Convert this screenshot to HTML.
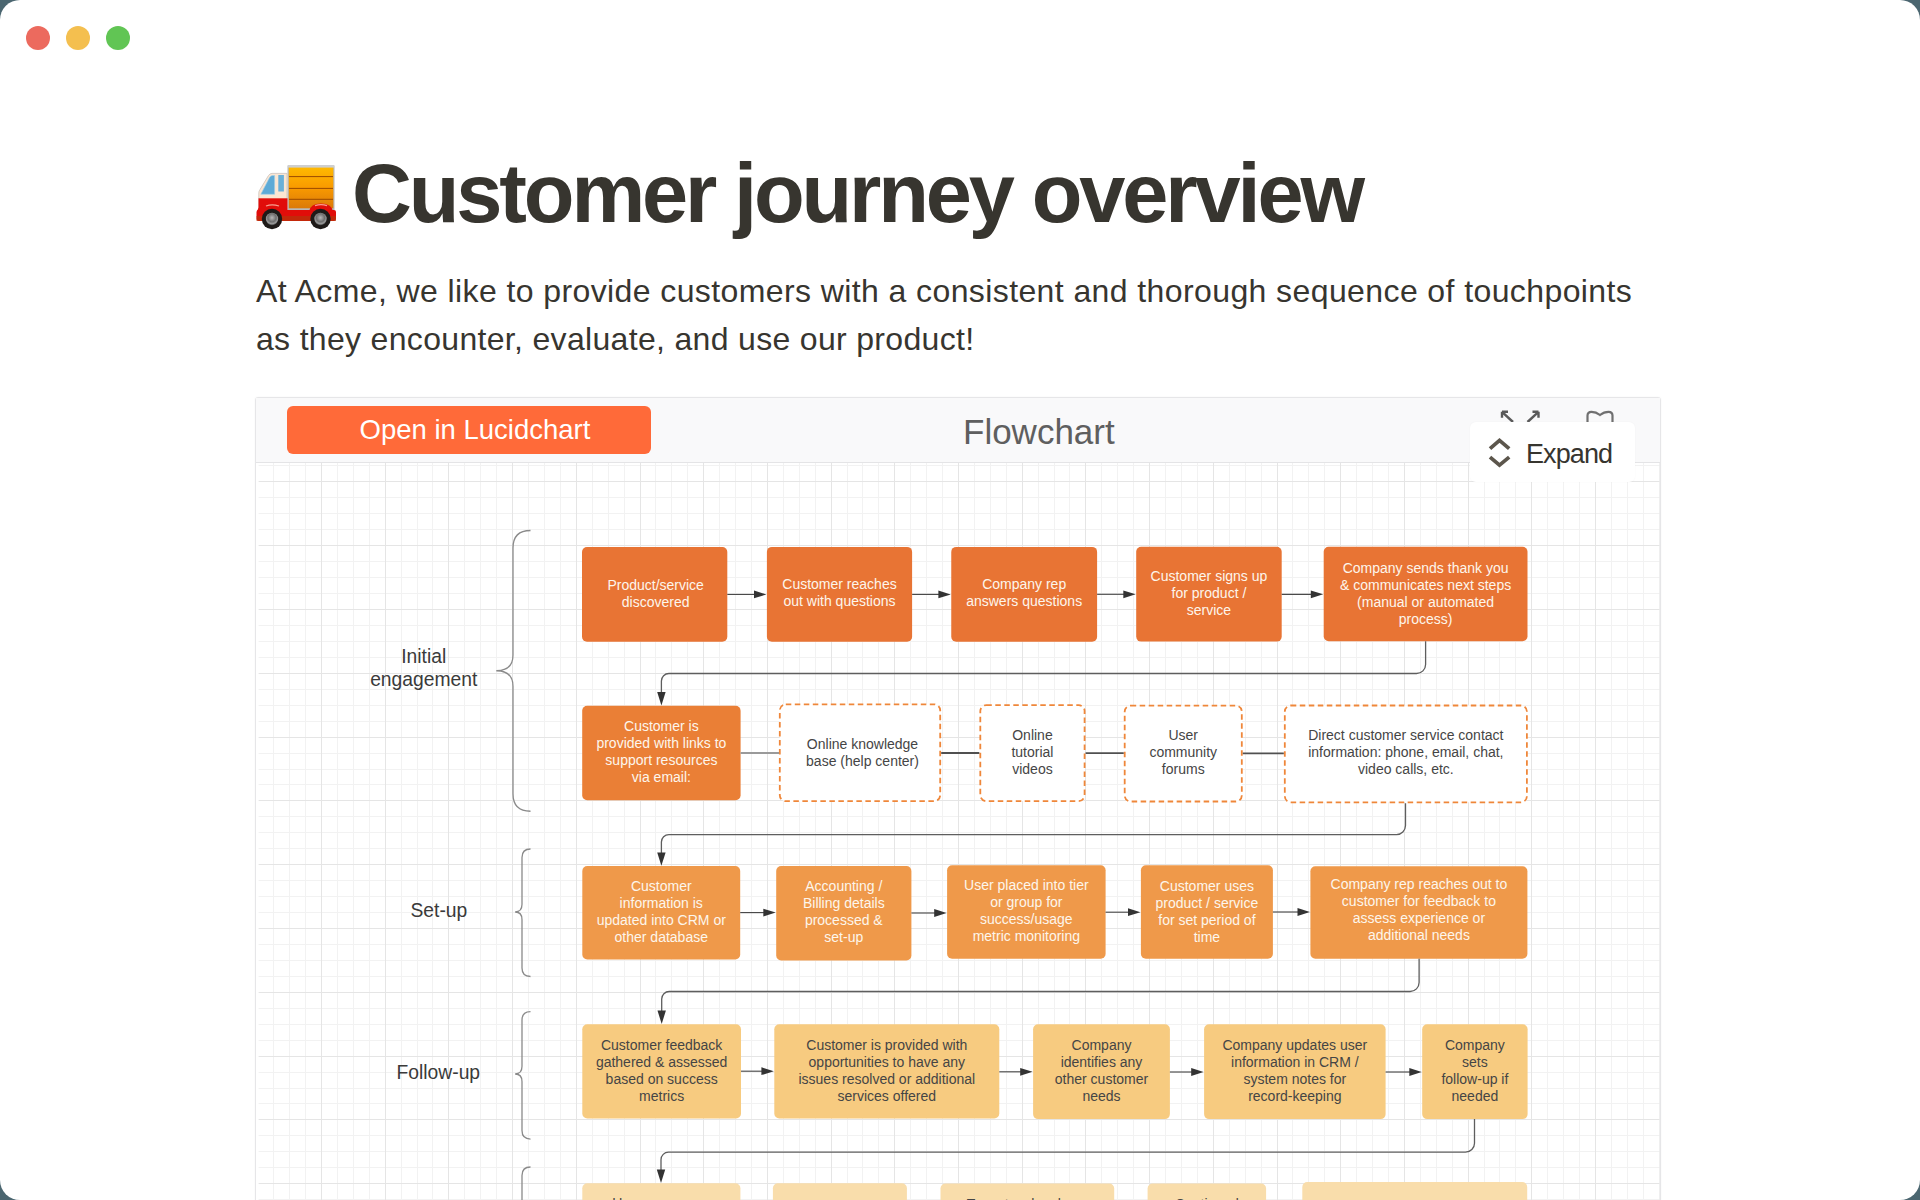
<!DOCTYPE html>
<html><head><meta charset="utf-8"><title>Customer journey overview</title>
<style>
html,body{margin:0;padding:0}
body{width:1920px;height:1200px;overflow:hidden;background:#4b6670;font-family:"Liberation Sans",sans-serif;position:relative}
.win{position:absolute;left:0;top:0;width:1920px;height:1200px;background:#fff;border-radius:20px;overflow:hidden}
.tl{position:absolute;top:26px;width:24px;height:24px;border-radius:50%}
h1{position:absolute;left:352px;top:144px;margin:0;font-size:83px;font-weight:bold;color:#37352f;letter-spacing:-3.15px;white-space:nowrap;line-height:100px}
.para{position:absolute;left:256px;top:267px;margin:0;font-size:32px;color:#37352f;line-height:48px;letter-spacing:0.40px;white-space:nowrap}
.embed{position:absolute;left:255px;top:397px;width:1406px;height:830px;border:1px solid #e6e6e8;border-radius:3px;background:#fff;box-sizing:border-box;box-shadow:0 0 2px rgba(0,0,0,0.05)}
.hdr{position:absolute;left:0;top:0;width:100%;height:64px;background:#f9f9fa;border-bottom:1px solid #e4e4e6}
.btn{position:absolute;left:31px;top:8px;width:364px;height:48px;background:#ff6a39;border-radius:6px;color:#fff;font-size:27.5px;text-align:center;line-height:48px;text-indent:12px}
.ftitle{position:absolute;left:707px;top:14px;font-size:35px;color:#5f5f5f;line-height:40px}
.expand{position:absolute;left:1470px;top:422px;width:165px;height:60px;background:#fff;border-radius:6px;box-shadow:0 0 2px rgba(0,0,0,0.04)}
.expand span{position:absolute;left:56px;top:15px;font-size:27px;letter-spacing:-0.9px;color:#37352f;line-height:34px}
</style></head><body>
<div class="win">
<div class="tl" style="left:26px;background:#ec6a5e"></div>
<div class="tl" style="left:66px;background:#f4bf4f"></div>
<div class="tl" style="left:106px;background:#61c554"></div>
<svg width="84" height="70" viewBox="254 162 84 70" style="position:absolute;left:254px;top:162px">
<defs>
<linearGradient id="cargo" x1="0" y1="0" x2="0" y2="1">
<stop offset="0" stop-color="#ffbb00"/><stop offset="0.5" stop-color="#f99a00"/><stop offset="1" stop-color="#d9780a"/></linearGradient>
<radialGradient id="hub" cx="0.5" cy="0.4" r="0.6"><stop offset="0" stop-color="#b8b8b8"/><stop offset="0.55" stop-color="#6e6e6e"/><stop offset="0.8" stop-color="#9a9a9a"/><stop offset="1" stop-color="#444"/></radialGradient>
</defs>
<rect x="287.5" y="165" width="47" height="46" fill="#b8b8b8" rx="1"/>
<rect x="288.8" y="166.3" width="44.5" height="43" fill="url(#cargo)"/><rect x="288" y="165" width="46" height="2.6" fill="#cfcfcf"/><rect x="288" y="208.3" width="46" height="1.8" fill="#b9b9b9"/>
<path d="M289 176.6H333M289 188.4H333M289 199.3H333" stroke="#9a4a00" stroke-width="1"/>
<path d="M258.8 210V193Q258.8 191 260 189.5L268.5 175.5Q269.8 173.4 272 173.4H287V210Z" fill="#fbe6d3" stroke="#c9c1bb" stroke-width="0.8"/>
<path d="M260.8 194.3L269.5 177.5Q270.6 175.5 272.5 175.5H274.6V194.3Z" fill="#5eaad6" stroke="#9fd0ea" stroke-width="0.6"/>
<rect x="278.3" y="175" width="5.6" height="16.5" fill="#6ab0d8"/>
<path d="M258.5 198.3H287.5V211H258.5Z" fill="#e10d0a"/>
<path d="M256.5 212Q256.5 210 258.5 210H334Q336 210 336 212V219Q336 221 334 221H258.5Q256.5 221 256.5 219Z" fill="#e10d0a"/>
<path d="M256.5 216H336V221H256.5Z" fill="#b03a0a" opacity="0.6"/>
<path d="M257 211Q259 204 272 203.5Q285 204 287.5 211Z" fill="#e10d0a"/><path d="M266 206Q272 203.6 279 206" stroke="#f7a090" stroke-width="1.3" fill="none"/><path d="M309 211.5Q310.5 203.6 321 203.6Q331.5 203.6 333 211.5Z" fill="#e10d0a"/><path d="M315 205.6Q321 203.8 327 205.6" stroke="#f7a090" stroke-width="1.3" fill="none"/>
<circle cx="272" cy="219" r="10.2" fill="#1e1a18"/>
<circle cx="272" cy="219" r="6.2" fill="url(#hub)"/>
<circle cx="320.5" cy="219" r="10.2" fill="#1e1a18"/>
<circle cx="320.5" cy="219" r="6.2" fill="url(#hub)"/>
</svg>
<h1>Customer journey overview</h1>
<p class="para">At Acme, we like to provide customers with a consistent and thorough sequence of touchpoints<br><span style="letter-spacing:0.32px">as they encounter, evaluate, and use our product!</span></p>
<div class="embed">
<div class="hdr">
<div class="btn">Open in Lucidchart</div>
<div class="ftitle">Flowchart</div>
<svg width="140" height="14" style="position:absolute;left:1240px;top:12px" viewBox="0 0 140 14">
<path d="M6 1.8L17 12M6 1.8H12M6 1.8V7.8" stroke="#5a5a5a" stroke-width="2.4" fill="none"/>
<path d="M42.5 1.8L31.5 12M42.5 1.8H36.5M42.5 1.8V7.8" stroke="#5a5a5a" stroke-width="2.4" fill="none"/>
<path d="M91.5 14V5.5Q91.5 1.8 95.5 1.8Q100 1.8 104 5Q108 1.8 112.5 1.8Q116.5 1.8 116.5 5.5V14" stroke="#707070" stroke-width="2.2" fill="none"/>
</svg>
</div>
</div>
<svg width="1920" height="1200" style="position:absolute;left:0;top:0" viewBox="0 0 1920 1200">
<defs><clipPath id="gc"><rect x="258.6" y="463" width="1401" height="737"/></clipPath></defs>
<g clip-path="url(#gc)" font-family="Liberation Sans, sans-serif">
<path d="M273.5 463V1200M289.5 463V1200M305.5 463V1200M337.5 463V1200M353.5 463V1200M369.5 463V1200M401.5 463V1200M417.5 463V1200M432.5 463V1200M464.5 463V1200M480.5 463V1200M496.5 463V1200M528.5 463V1200M544.5 463V1200M560.5 463V1200M592.5 463V1200M608.5 463V1200M624.5 463V1200M655.5 463V1200M671.5 463V1200M687.5 463V1200M719.5 463V1200M735.5 463V1200M751.5 463V1200M783.5 463V1200M799.5 463V1200M815.5 463V1200M847.5 463V1200M862.5 463V1200M878.5 463V1200M910.5 463V1200M926.5 463V1200M942.5 463V1200M974.5 463V1200M990.5 463V1200M1006.5 463V1200M1038.5 463V1200M1054.5 463V1200M1069.5 463V1200M1101.5 463V1200M1117.5 463V1200M1133.5 463V1200M1165.5 463V1200M1181.5 463V1200M1197.5 463V1200M1229.5 463V1200M1245.5 463V1200M1261.5 463V1200M1292.5 463V1200M1308.5 463V1200M1324.5 463V1200M1356.5 463V1200M1372.5 463V1200M1388.5 463V1200M1420.5 463V1200M1436.5 463V1200M1452.5 463V1200M1484.5 463V1200M1499.5 463V1200M1515.5 463V1200M1547.5 463V1200M1563.5 463V1200M1579.5 463V1200M1611.5 463V1200M1627.5 463V1200M1643.5 463V1200M257 465.5H1660M257 497.5H1660M257 513.5H1660M257 529.5H1660M257 561.5H1660M257 577.5H1660M257 593.5H1660M257 625.5H1660M257 641.5H1660M257 657.5H1660M257 689.5H1660M257 705.5H1660M257 721.5H1660M257 753.5H1660M257 769.5H1660M257 784.5H1660M257 816.5H1660M257 832.5H1660M257 848.5H1660M257 880.5H1660M257 896.5H1660M257 912.5H1660M257 944.5H1660M257 960.5H1660M257 976.5H1660M257 1008.5H1660M257 1024.5H1660M257 1040.5H1660M257 1072.5H1660M257 1088.5H1660M257 1103.5H1660M257 1135.5H1660M257 1151.5H1660M257 1167.5H1660M257 1199.5H1660" stroke="#f2f2f2" stroke-width="1" fill="none"/>
<path d="M257.5 463V1200M321.5 463V1200M385.5 463V1200M448.5 463V1200M512.5 463V1200M576.5 463V1200M640.5 463V1200M703.5 463V1200M767.5 463V1200M831.5 463V1200M894.5 463V1200M958.5 463V1200M1022.5 463V1200M1085.5 463V1200M1149.5 463V1200M1213.5 463V1200M1277.5 463V1200M1340.5 463V1200M1404.5 463V1200M1468.5 463V1200M1531.5 463V1200M1595.5 463V1200M1659.5 463V1200M257 481.5H1660M257 545.5H1660M257 609.5H1660M257 673.5H1660M257 737.5H1660M257 800.5H1660M257 864.5H1660M257 928.5H1660M257 992.5H1660M257 1056.5H1660M257 1119.5H1660M257 1183.5H1660" stroke="#e5e5e5" stroke-width="1" fill="none"/>
<path d="M530.5 530.5 Q513 530.5 513 548 V655 Q513 670.75 496.3 670.75 Q513 670.75 513 686.5 V793.75 Q513 811.25 530.5 811.25" stroke="#8a8a8a" stroke-width="1.3" fill="none"/>
<path d="M530.5 849 Q522 849 522 857.5 V904.35 Q522 912 515.1 912 Q522 912 522 919.65 V968 Q522 976.5 530.5 976.5" stroke="#8a8a8a" stroke-width="1.3" fill="none"/>
<path d="M530.5 1011.6 Q522 1011.6 522 1020.1 V1066.35 Q522 1074 515.1 1074 Q522 1074 522 1081.65 V1130.6 Q522 1139.1 530.5 1139.1" stroke="#8a8a8a" stroke-width="1.3" fill="none"/>
<path d="M530.5 1167 Q522 1167 522 1175.5 V1222.35 Q522 1230 515.1 1230 Q522 1230 522 1237.65 V1286.5 Q522 1295 530.5 1295" stroke="#8a8a8a" stroke-width="1.3" fill="none"/>
<text x="423.75" y="663.25" font-size="19.3" fill="#3a3a3a" text-anchor="middle">Initial</text>
<text x="423.75" y="686.25" font-size="19.3" fill="#3a3a3a" text-anchor="middle">engagement</text>
<text x="438.9" y="917.4" font-size="19.3" fill="#3a3a3a" text-anchor="middle">Set-up</text>
<text x="438.3" y="1079.4" font-size="19.3" fill="#3a3a3a" text-anchor="middle">Follow-up</text>
<rect x="582" y="547" width="145.3" height="94.8" rx="5" fill="#e87434"/>
<text x="655.65" y="589.5" font-size="14" fill="#fdf6ec" text-anchor="middle">Product/service</text>
<text x="655.65" y="606.5" font-size="14" fill="#fdf6ec" text-anchor="middle">discovered</text>
<rect x="766.9" y="546.9" width="145.2" height="94.8" rx="5" fill="#e87434"/>
<text x="839.5" y="589.4" font-size="14" fill="#fdf6ec" text-anchor="middle">Customer reaches</text>
<text x="839.5" y="606.4" font-size="14" fill="#fdf6ec" text-anchor="middle">out with questions</text>
<rect x="951.25" y="546.9" width="145.85" height="94.8" rx="5" fill="#e87434"/>
<text x="1024.17" y="589.4" font-size="14" fill="#fdf6ec" text-anchor="middle">Company rep</text>
<text x="1024.17" y="606.4" font-size="14" fill="#fdf6ec" text-anchor="middle">answers questions</text>
<rect x="1136.2" y="546.7" width="145.5" height="94.9" rx="5" fill="#e87434"/>
<text x="1208.95" y="580.75" font-size="14" fill="#fdf6ec" text-anchor="middle">Customer signs up</text>
<text x="1208.95" y="597.75" font-size="14" fill="#fdf6ec" text-anchor="middle">for product /</text>
<text x="1208.95" y="614.75" font-size="14" fill="#fdf6ec" text-anchor="middle">service</text>
<rect x="1323.7" y="546.7" width="203.8" height="94.5" rx="5" fill="#e87434"/>
<text x="1425.6" y="573.05" font-size="14" fill="#fdf6ec" text-anchor="middle">Company sends thank you</text>
<text x="1425.6" y="590.05" font-size="14" fill="#fdf6ec" text-anchor="middle">&amp; communicates next steps</text>
<text x="1425.6" y="607.05" font-size="14" fill="#fdf6ec" text-anchor="middle">(manual or automated</text>
<text x="1425.6" y="624.05" font-size="14" fill="#fdf6ec" text-anchor="middle">process)</text>
<rect x="582.2" y="705.7" width="158.4" height="94.5" rx="5" fill="#ea7f36"/>
<text x="661.4" y="731.05" font-size="14" fill="#fdf6ec" text-anchor="middle">Customer is</text>
<text x="661.4" y="748.05" font-size="14" fill="#fdf6ec" text-anchor="middle">provided with links to</text>
<text x="661.4" y="765.05" font-size="14" fill="#fdf6ec" text-anchor="middle">support resources</text>
<text x="661.4" y="782.05" font-size="14" fill="#fdf6ec" text-anchor="middle">via email:</text>
<rect x="779.8" y="704.3" width="160.4" height="96.9" rx="6" fill="#fff" stroke="#ef873a" stroke-width="1.8" stroke-dasharray="5.5 3.5"/>
<text x="862.5" y="748.55" font-size="14" fill="#454545" text-anchor="middle">Online knowledge</text>
<text x="862.5" y="765.55" font-size="14" fill="#454545" text-anchor="middle">base (help center)</text>
<rect x="980.3" y="705.1" width="104.3" height="96" rx="6" fill="#fff" stroke="#ef873a" stroke-width="1.8" stroke-dasharray="5.5 3.5"/>
<text x="1032.45" y="739.7" font-size="14" fill="#454545" text-anchor="middle">Online</text>
<text x="1032.45" y="756.7" font-size="14" fill="#454545" text-anchor="middle">tutorial</text>
<text x="1032.45" y="773.7" font-size="14" fill="#454545" text-anchor="middle">videos</text>
<rect x="1124.7" y="705.6" width="117.1" height="95.9" rx="6" fill="#fff" stroke="#ef873a" stroke-width="1.8" stroke-dasharray="5.5 3.5"/>
<text x="1183.25" y="740.15" font-size="14" fill="#454545" text-anchor="middle">User</text>
<text x="1183.25" y="757.15" font-size="14" fill="#454545" text-anchor="middle">community</text>
<text x="1183.25" y="774.15" font-size="14" fill="#454545" text-anchor="middle">forums</text>
<rect x="1284.8" y="705.5" width="242.1" height="96.8" rx="6" fill="#fff" stroke="#ef873a" stroke-width="1.8" stroke-dasharray="5.5 3.5"/>
<text x="1405.85" y="739.5" font-size="14" fill="#454545" text-anchor="middle">Direct customer service contact</text>
<text x="1405.85" y="756.5" font-size="14" fill="#454545" text-anchor="middle">information: phone, email, chat,</text>
<text x="1405.85" y="773.5" font-size="14" fill="#454545" text-anchor="middle">video calls, etc.</text>
<rect x="582.3" y="866.1" width="157.9" height="93.4" rx="5" fill="#ef994a"/>
<text x="661.25" y="890.9" font-size="14" fill="#fdf6ec" text-anchor="middle">Customer</text>
<text x="661.25" y="907.9" font-size="14" fill="#fdf6ec" text-anchor="middle">information is</text>
<text x="661.25" y="924.9" font-size="14" fill="#fdf6ec" text-anchor="middle">updated into CRM or</text>
<text x="661.25" y="941.9" font-size="14" fill="#fdf6ec" text-anchor="middle">other database</text>
<rect x="776.2" y="866.1" width="135.2" height="94.4" rx="5" fill="#ef994a"/>
<text x="843.8" y="891.4" font-size="14" fill="#fdf6ec" text-anchor="middle">Accounting /</text>
<text x="843.8" y="908.4" font-size="14" fill="#fdf6ec" text-anchor="middle">Billing details</text>
<text x="843.8" y="925.4" font-size="14" fill="#fdf6ec" text-anchor="middle">processed &amp;</text>
<text x="843.8" y="942.4" font-size="14" fill="#fdf6ec" text-anchor="middle">set-up</text>
<rect x="947.1" y="865.2" width="158.5" height="93.5" rx="5" fill="#ef994a"/>
<text x="1026.35" y="890.05" font-size="14" fill="#fdf6ec" text-anchor="middle">User placed into tier</text>
<text x="1026.35" y="907.05" font-size="14" fill="#fdf6ec" text-anchor="middle">or group for</text>
<text x="1026.35" y="924.05" font-size="14" fill="#fdf6ec" text-anchor="middle">success/usage</text>
<text x="1026.35" y="941.05" font-size="14" fill="#fdf6ec" text-anchor="middle">metric monitoring</text>
<rect x="1140.9" y="865.2" width="132" height="93.5" rx="5" fill="#ef994a"/>
<text x="1206.9" y="891.05" font-size="14" fill="#fdf6ec" text-anchor="middle">Customer uses</text>
<text x="1206.9" y="908.05" font-size="14" fill="#fdf6ec" text-anchor="middle">product / service</text>
<text x="1206.9" y="925.05" font-size="14" fill="#fdf6ec" text-anchor="middle">for set period of</text>
<text x="1206.9" y="942.05" font-size="14" fill="#fdf6ec" text-anchor="middle">time</text>
<rect x="1310.4" y="866.2" width="217" height="92.6" rx="5" fill="#ef994a"/>
<text x="1418.9" y="888.6" font-size="14" fill="#fdf6ec" text-anchor="middle">Company rep reaches out to</text>
<text x="1418.9" y="905.6" font-size="14" fill="#fdf6ec" text-anchor="middle">customer for feedback to</text>
<text x="1418.9" y="922.6" font-size="14" fill="#fdf6ec" text-anchor="middle">assess experience or</text>
<text x="1418.9" y="939.6" font-size="14" fill="#fdf6ec" text-anchor="middle">additional needs</text>
<rect x="582.3" y="1024.3" width="158.7" height="94.2" rx="5" fill="#f7cb80"/>
<text x="661.65" y="1049.5" font-size="14" fill="#454545" text-anchor="middle">Customer feedback</text>
<text x="661.65" y="1066.5" font-size="14" fill="#454545" text-anchor="middle">gathered &amp; assessed</text>
<text x="661.65" y="1083.5" font-size="14" fill="#454545" text-anchor="middle">based on success</text>
<text x="661.65" y="1100.5" font-size="14" fill="#454545" text-anchor="middle">metrics</text>
<rect x="774.3" y="1024.3" width="225" height="94.2" rx="5" fill="#f7cb80"/>
<text x="886.8" y="1049.5" font-size="14" fill="#454545" text-anchor="middle">Customer is provided with</text>
<text x="886.8" y="1066.5" font-size="14" fill="#454545" text-anchor="middle">opportunities to have any</text>
<text x="886.8" y="1083.5" font-size="14" fill="#454545" text-anchor="middle">issues resolved or additional</text>
<text x="886.8" y="1100.5" font-size="14" fill="#454545" text-anchor="middle">services offered</text>
<rect x="1033.1" y="1024.2" width="136.8" height="94.9" rx="5" fill="#f7cb80"/>
<text x="1101.5" y="1049.75" font-size="14" fill="#454545" text-anchor="middle">Company</text>
<text x="1101.5" y="1066.75" font-size="14" fill="#454545" text-anchor="middle">identifies any</text>
<text x="1101.5" y="1083.75" font-size="14" fill="#454545" text-anchor="middle">other customer</text>
<text x="1101.5" y="1100.75" font-size="14" fill="#454545" text-anchor="middle">needs</text>
<rect x="1204.1" y="1024.2" width="181.5" height="94.9" rx="5" fill="#f7cb80"/>
<text x="1294.85" y="1049.75" font-size="14" fill="#454545" text-anchor="middle">Company updates user</text>
<text x="1294.85" y="1066.75" font-size="14" fill="#454545" text-anchor="middle">information in CRM /</text>
<text x="1294.85" y="1083.75" font-size="14" fill="#454545" text-anchor="middle">system notes for</text>
<text x="1294.85" y="1100.75" font-size="14" fill="#454545" text-anchor="middle">record-keeping</text>
<rect x="1422.2" y="1024.2" width="105.4" height="94.9" rx="5" fill="#f7cb80"/>
<text x="1474.9" y="1049.75" font-size="14" fill="#454545" text-anchor="middle">Company</text>
<text x="1474.9" y="1066.75" font-size="14" fill="#454545" text-anchor="middle">sets</text>
<text x="1474.9" y="1083.75" font-size="14" fill="#454545" text-anchor="middle">follow-up if</text>
<text x="1474.9" y="1100.75" font-size="14" fill="#454545" text-anchor="middle">needed</text>
<rect x="582.3" y="1183.3" width="158.1" height="93.7" rx="5" fill="#f9ddab"/>
<text x="661.35" y="1208.4" font-size="14" fill="#454545" text-anchor="middle">Usage resumes</text>
<rect x="772.9" y="1183.3" width="134" height="93.7" rx="5" fill="#f9ddab"/>
<rect x="940.5" y="1183.6" width="173.7" height="93.4" rx="5" fill="#f9ddab"/>
<text x="1027.35" y="1208.7" font-size="14" fill="#454545" text-anchor="middle">Team touches base</text>
<rect x="1147.6" y="1183.6" width="118.5" height="93.4" rx="5" fill="#f9ddab"/>
<text x="1206.85" y="1208.7" font-size="14" fill="#454545" text-anchor="middle">Continued</text>
<rect x="1302.3" y="1182" width="224.9" height="95" rx="5" fill="#f9ddab"/>
<path d="M727.3 594.45H756.9" stroke="#4a4a4a" stroke-width="1.15"/>
<path d="M766.4 594.45L754 590.55L754 598.35Z" fill="#333"/>
<path d="M912.1 594.4H941.25" stroke="#4a4a4a" stroke-width="1.15"/>
<path d="M950.75 594.4L938.35 590.5L938.35 598.3Z" fill="#333"/>
<path d="M1097.1 594.3H1126.2" stroke="#4a4a4a" stroke-width="1.15"/>
<path d="M1135.7 594.3L1123.3 590.4L1123.3 598.2Z" fill="#333"/>
<path d="M1281.7 594.3H1313.7" stroke="#4a4a4a" stroke-width="1.15"/>
<path d="M1323.2 594.3L1310.8 590.4L1310.8 598.2Z" fill="#333"/>
<path d="M740.2 912.6H766.2" stroke="#4a4a4a" stroke-width="1.15"/>
<path d="M775.7 912.6L763.3 908.7L763.3 916.5Z" fill="#333"/>
<path d="M911.4 913H937.1" stroke="#4a4a4a" stroke-width="1.15"/>
<path d="M946.6 913L934.2 909.1L934.2 916.9Z" fill="#333"/>
<path d="M1105.6 912.2H1130.9" stroke="#4a4a4a" stroke-width="1.15"/>
<path d="M1140.4 912.2L1128 908.3L1128 916.1Z" fill="#333"/>
<path d="M1272.9 912H1300.4" stroke="#4a4a4a" stroke-width="1.15"/>
<path d="M1309.9 912L1297.5 908.1L1297.5 915.9Z" fill="#333"/>
<path d="M741 1071.2H764.3" stroke="#4a4a4a" stroke-width="1.15"/>
<path d="M773.8 1071.2L761.4 1067.3L761.4 1075.1Z" fill="#333"/>
<path d="M999.3 1071.8H1023.1" stroke="#4a4a4a" stroke-width="1.15"/>
<path d="M1032.6 1071.8L1020.2 1067.9L1020.2 1075.7Z" fill="#333"/>
<path d="M1169.9 1072H1194.1" stroke="#4a4a4a" stroke-width="1.15"/>
<path d="M1203.6 1072L1191.2 1068.1L1191.2 1075.9Z" fill="#333"/>
<path d="M1385.6 1072H1412.2" stroke="#4a4a4a" stroke-width="1.15"/>
<path d="M1421.7 1072L1409.3 1068.1L1409.3 1075.9Z" fill="#333"/>
<path d="M740.6 753H779" stroke="#9a9a9a" stroke-width="1.8"/>
<path d="M941.2 753H979.3" stroke="#505050" stroke-width="1.8"/>
<path d="M1085.6 753.2H1123.7" stroke="#505050" stroke-width="1.8"/>
<path d="M1242.8 753.3H1283.8" stroke="#505050" stroke-width="1.8"/>
<path d="M1425.6 641.2V664.5A9 9 0 0 1 1416.6 673.5H668.9A7.5 7.5 0 0 0 661.4 681V694.4" stroke="#5e5e5e" stroke-width="1.3" fill="none"/>
<path d="M661.4 705.4L657.2 692L665.6 692Z" fill="#333"/>
<path d="M1405.5 803.3V825.6A9 9 0 0 1 1396.5 834.6H668.9A7.5 7.5 0 0 0 661.4 842.1V854.8" stroke="#5e5e5e" stroke-width="1.3" fill="none"/>
<path d="M661.4 865.8L657.2 852.4L665.6 852.4Z" fill="#333"/>
<path d="M1419.1 958.8V982.5A9 9 0 0 1 1410.1 991.5H669.2A7.5 7.5 0 0 0 661.7 999V1013" stroke="#5e5e5e" stroke-width="1.3" fill="none"/>
<path d="M661.7 1024L657.5 1010.6L665.9 1010.6Z" fill="#333"/>
<path d="M1474.5 1119.1V1143.2A9 9 0 0 1 1465.5 1152.2H668.5A7.5 7.5 0 0 0 661 1159.7V1172" stroke="#5e5e5e" stroke-width="1.3" fill="none"/>
<path d="M661 1183L656.8 1169.6L665.2 1169.6Z" fill="#333"/>
</g>
</svg>
<div class="expand">
<svg width="30" height="36" style="position:absolute;left:17px;top:14px" viewBox="0 0 30 36">
<path d="M3 12.65L12.5 4.4L22.2 12.65M3 21.1L12.5 29.15L22.2 21.1" stroke="#5c564c" stroke-width="3.75" fill="none"/>
</svg>
<span>Expand</span>
</div>
</div>
</body></html>
